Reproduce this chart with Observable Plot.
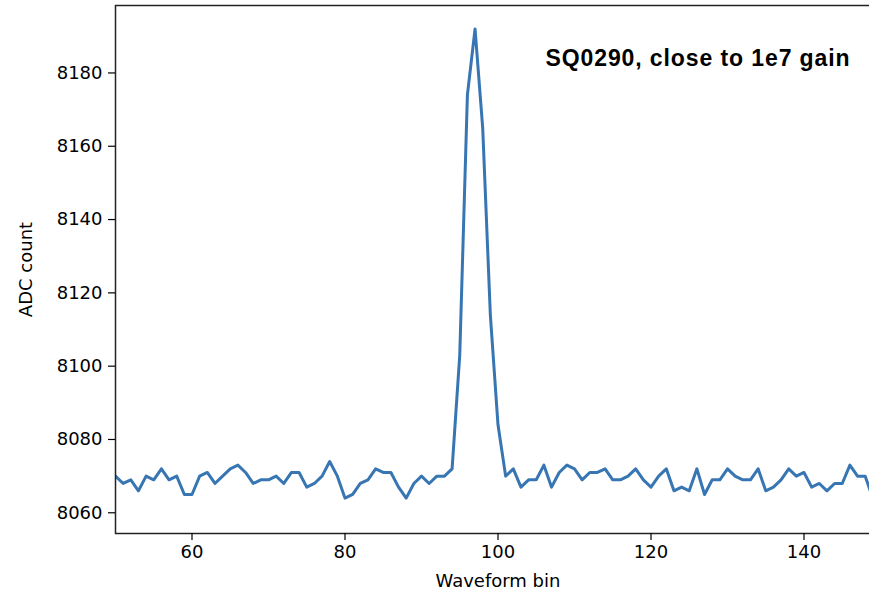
<!DOCTYPE html>
<html>
<head>
<meta charset="utf-8">
<script src="https://cdn.jsdelivr.net/npm/d3@7"></script>
<script src="https://cdn.jsdelivr.net/npm/@observablehq/plot@0.6"></script>
<style>
  html, body { margin: 0; padding: 0; background: #fff; overflow: hidden; width: 869px; height: 593px; }
  #chart { width: 869px; height: 593px; overflow: hidden; }
  #chart svg { display: block; max-width: none !important; width: 890px !important; height: 593px !important; }
</style>
</head>
<body>
<div id="chart"></div>
<script>
const bins = d3.range(50, 150);
const adc = [
  8070, 8068, 8069, 8066, 8070, 8069, 8072, 8069, 8070, 8065,
  8065, 8070, 8071, 8068, 8070, 8072, 8073, 8071, 8068, 8069,
  8069, 8070, 8068, 8071, 8071, 8067, 8068, 8070, 8074, 8070,
  8064, 8065, 8068, 8069, 8072, 8071, 8071, 8067, 8064, 8068,
  8070, 8068, 8070, 8070, 8072, 8103, 8174, 8192, 8165, 8114,
  8084, 8070, 8072, 8067, 8069, 8069, 8073, 8067, 8071, 8073,
  8072, 8069, 8071, 8071, 8072, 8069, 8069, 8070, 8072, 8069,
  8067, 8070, 8072, 8066, 8067, 8066, 8072, 8065, 8069, 8069,
  8072, 8070, 8069, 8069, 8072, 8066, 8067, 8069, 8072, 8070,
  8071, 8067, 8068, 8066, 8068, 8068, 8073, 8070, 8070, 8064
];
const xTicks = [60, 80, 100, 120, 140];
const yTicks = [8060, 8080, 8100, 8120, 8140, 8160, 8180];
const titleText = "SQ0290, close to 1e7 gain";
const xLabel = "Waveform bin";
const yLabel = "ADC count";

const data = bins.map((b, i) => ({bin: b, adc: adc[i]}));

const chart = Plot.plot({
  width: 890,
  height: 593,
  marginLeft: 115,
  marginRight: 10,
  marginTop: 5,
  marginBottom: 60,
  style: {fontFamily: "DejaVu Sans", fontSize: "18px", color: "#000", background: "#fff"},
  x: {domain: [50, 150]},
  y: {domain: [8054.35, 8198.4]},
  marks: [
    Plot.line(data, {x: "bin", y: "adc", stroke: "#3776b2", strokeWidth: 3, clip: true}),
    Plot.frame({stroke: "#222", strokeWidth: 1.5}),
    Plot.axisX({ticks: xTicks, tickSize: 7, tickPadding: 5, tickFormat: d => String(d),
      label: xLabel, labelAnchor: "center", labelArrow: "none", labelOffset: 53, strokeWidth: 1.2}),
    Plot.axisY({ticks: yTicks, tickSize: 7, tickPadding: 6, tickFormat: d => String(d),
      label: yLabel, labelAnchor: "center", labelArrow: "none", labelOffset: 96, strokeWidth: 1.2}),
    Plot.text([titleText], {frameAnchor: "top-right", text: d => d, textAnchor: "end",
      dx: -30, dy: 44, fontSize: 23, fontWeight: "bold", fontFamily: "Liberation Sans", fill: "#000",
      letterSpacing: 1})
  ]
});
chart.querySelectorAll("text").forEach(t => {
  if (t.textContent === titleText) t.style.letterSpacing = "0.9px";
});
document.getElementById("chart").appendChild(chart);
</script>
</body>
</html>
